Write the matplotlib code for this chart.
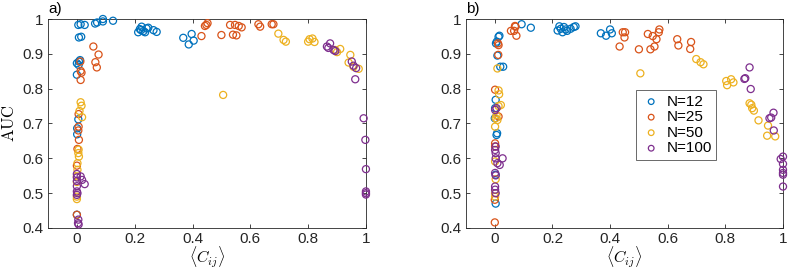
import numpy as np
import matplotlib.pyplot as plt

plt.rcParams['font.family'] = ['Liberation Sans', 'DejaVu Sans']
plt.rcParams['mathtext.fontset'] = 'cm'

colors = ['#0072BD', '#D95319', '#EDB120', '#7E2F8E']
labels = ['N=12', 'N=25', 'N=50', 'N=100']

# panel a) data: (x, AUC) per N
a_n12_x = [0.005, 0.013, 0.027, 0.007, 0.015, 0.0, 0.007, 0.011, 0.006, 0.0, 0.005, 0.001, 0.001, 0.0,
           0.07, 0.09, 0.09, 0.125, 0.063,
           0.212, 0.218, 0.224, 0.23, 0.236, 0.241, 0.247, 0.265, 0.276, 0.222,
           0.368, 0.387, 0.397, 0.404]
a_n12_y = [0.983, 0.985, 0.983, 0.947, 0.949, 0.873, 0.878, 0.882, 0.868, 0.84, 0.712, 0.686, 0.669, 0.438,
           0.99, 1.0, 0.993, 0.995, 0.987,
           0.962, 0.971, 0.978, 0.965, 0.962, 0.973, 0.975, 0.968, 0.963, 0.968,
           0.946, 0.927, 0.957, 0.938]
a_n25_x = [0.057, 0.075, 0.064, 0.069, 0.012, 0.013, 0.016, 0.013, 0.006, 0.006, 0.005, 0.007, 0.002, 0.0, 0.0,
           0.431, 0.443, 0.448, 0.452, 0.5, 0.53, 0.54, 0.547, 0.552, 0.56, 0.57, 0.628, 0.634, 0.674, 0.68]
a_n25_y = [0.921, 0.898, 0.876, 0.861, 0.878, 0.851, 0.846, 0.825, 0.727, 0.691, 0.68, 0.653, 0.627, 0.579, 0.438,
           0.951, 0.98, 0.983, 0.988, 0.954, 0.983, 0.955, 0.983, 0.953, 0.98, 0.976, 0.985, 0.978, 0.985, 0.985]
a_n50_x = [0.506, 0.697, 0.715, 0.723, 0.8, 0.805, 0.815, 0.822,
           0.894, 0.9, 0.911, 0.946, 0.94, 0.957, 0.975,
           0.013, 0.016, 0.009, 0.018, 0.005, 0.007, 0.006, 0.002, 0.002, 0.0, 0.0, 0.0, 0.0]
a_n50_y = [0.782, 0.958, 0.94, 0.935, 0.935, 0.942, 0.944, 0.934,
           0.911, 0.905, 0.914, 0.897, 0.875, 0.863, 0.857,
           0.761, 0.751, 0.736, 0.718, 0.615, 0.605, 0.625, 0.586, 0.567, 0.548, 0.532, 0.49, 0.483]
a_n100_x = [0.0, 0.0, 0.0, 0.0, 0.0, 0.0, 0.002, 0.013, 0.018, 0.027, 0.005, 0.004, 0.006,
            0.865, 0.87, 0.876, 0.888, 0.894, 0.951, 0.957, 0.966, 0.963,
            0.992, 0.998, 1.0, 1.0, 1.0, 1.0]
a_n100_y = [0.555, 0.545, 0.535, 0.52, 0.505, 0.495, 0.5, 0.548, 0.538, 0.526, 0.424, 0.414, 0.41,
            0.921, 0.917, 0.93, 0.911, 0.908, 0.878, 0.866, 0.859, 0.827,
            0.715, 0.653, 0.569, 0.505, 0.5, 0.496]

# panel b) data
b_n12_x = [0.013, 0.016, 0.007, 0.004, 0.009, 0.019, 0.029, 0.003, 0.001, 0.0, 0.008, 0.006, 0.003, 0.003,
           0.093, 0.125,
           0.218, 0.224, 0.229, 0.235, 0.24, 0.246, 0.251, 0.263, 0.274, 0.28,
           0.368, 0.386, 0.4, 0.406]
b_n12_y = [0.949, 0.952, 0.935, 0.93, 0.895, 0.863, 0.863, 0.768, 0.744, 0.715, 0.672, 0.667, 0.553, 0.47,
           0.985, 0.975,
           0.967, 0.979, 0.972, 0.962, 0.977, 0.97, 0.966, 0.972, 0.977, 0.979,
           0.959, 0.952, 0.97, 0.959]
b_n25_x = [0.056, 0.067, 0.07, 0.075, 0.072, 0.013, 0.011, 0.012, 0.001, 0.013, 0.001, 0.001, 0.0, 0.0,
           0.433, 0.444, 0.45, 0.452, 0.5, 0.531, 0.54, 0.548, 0.554, 0.561, 0.571, 0.569,
           0.633, 0.637, 0.678, 0.681]
b_n25_y = [0.966, 0.966, 0.98, 0.952, 0.978, 0.925, 0.93, 0.897, 0.797, 0.72, 0.643, 0.634, 0.481, 0.416,
           0.921, 0.962, 0.947, 0.962, 0.913, 0.957, 0.913, 0.951, 0.921, 0.942, 0.97, 0.962,
           0.942, 0.924, 0.914, 0.934]
b_n50_x = [0.505, 0.699, 0.714, 0.724, 0.803, 0.806, 0.82, 0.828,
           0.884, 0.89, 0.893, 0.899, 0.915, 0.948, 0.945, 0.973,
           0.013, 0.015, 0.021, 0.013, 0.009, 0.006, 0.003, 0.009, 0.001, 0.001, 0.003, 0.001, 0.001]
b_n50_y = [0.844, 0.885, 0.876, 0.87, 0.822, 0.81, 0.827, 0.818,
           0.758, 0.754, 0.744, 0.737, 0.709, 0.694, 0.665, 0.663,
           0.795, 0.784, 0.753, 0.75, 0.858, 0.724, 0.715, 0.71, 0.691, 0.591, 0.54, 0.49, 0.5]
b_n100_x = [0.866, 0.869, 0.884, 0.888, 0.953, 0.959, 0.967, 0.968,
            0.992, 1.0, 1.0, 1.0, 1.0, 1.0, 1.0,
            0.006, 0.001, 0.003, 0.001, 0.003, 0.003, 0.009, 0.017, 0.027, 0.001, 0.003, 0.001, 0.001, 0.003]
b_n100_y = [0.828, 0.83, 0.861, 0.799, 0.715, 0.717, 0.731, 0.68,
            0.598, 0.605, 0.584, 0.567, 0.558, 0.553, 0.519,
            0.744, 0.739, 0.634, 0.624, 0.615, 0.6, 0.586, 0.581, 0.6, 0.558, 0.551, 0.519, 0.51, 0.5]

panels = [
    ('a)', [(a_n12_x, a_n12_y), (a_n25_x, a_n25_y), (a_n50_x, a_n50_y), (a_n100_x, a_n100_y)]),
    ('b)', [(b_n12_x, b_n12_y), (b_n25_x, b_n25_y), (b_n50_x, b_n50_y), (b_n100_x, b_n100_y)]),
]

fig = plt.figure(figsize=(7.89, 2.70), dpi=100)
positions = [[0.0608, 0.1556, 0.403, 0.774], [0.5906, 0.1556, 0.4018, 0.774]]

for k, (tag, series) in enumerate(panels):
    ax = fig.add_axes(positions[k])
    for (xs, ys), c, lab in zip(series, colors, labels):
        ax.scatter(xs, ys, s=26, facecolors='none', edgecolors=c, linewidths=0.9,
                   label=lab, clip_on=False, zorder=3)
    ax.set_xlim(-0.1, 1)
    ax.set_ylim(0.4, 1)
    ax.set_xticks([0, 0.2, 0.4, 0.6, 0.8, 1])
    ax.set_xticklabels(['0', '0.2', '0.4', '0.6', '0.8', '1'])
    ax.set_yticks([0.4, 0.5, 0.6, 0.7, 0.8, 0.9, 1])
    ax.set_yticklabels(['0.4', '0.5', '0.6', '0.7', '0.8', '0.9', '1'])
    ax.tick_params(direction='in', top=True, right=True, length=3, width=0.6,
                   labelsize=11, colors='#262626', pad=3)
    for sp in ax.spines.values():
        sp.set_linewidth(0.6)
        sp.set_color('#262626')
    ax.set_xlabel(r'$\langle C_{ij}\rangle$', fontsize=11.5, labelpad=-1)
    ax.text(0.0, 1.015, tag, transform=ax.transAxes, fontsize=11, ha='left', va='bottom')
    if k == 0:
        ax.set_ylabel(r'$\mathrm{AUC}$', fontsize=12, labelpad=4)
    else:
        leg = ax.legend(loc='upper left', bbox_to_anchor=(0.536, 0.66), fontsize=11,
                        frameon=True, fancybox=False, edgecolor='#262626',
                        handletextpad=0.3, borderpad=0.3, labelspacing=0.1,
                        handlelength=1.4, scatterpoints=1, markerscale=0.8,
                        borderaxespad=0)
        leg.get_frame().set_linewidth(0.6)

fig.savefig('out.png', dpi=100)
